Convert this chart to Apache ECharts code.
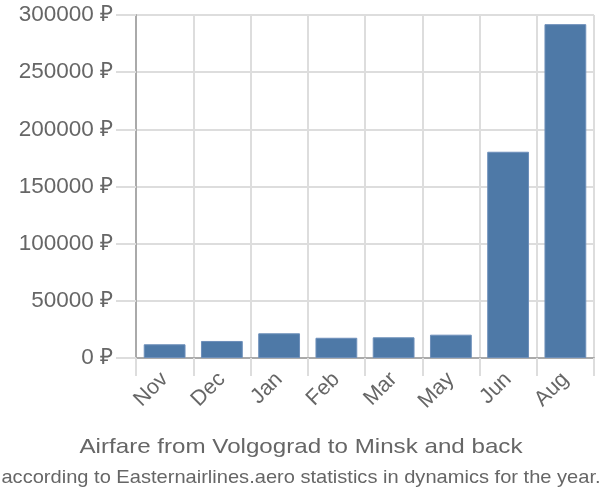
<!DOCTYPE html>
<html><head><meta charset="utf-8">
<script src="https://cdn.jsdelivr.net/npm/echarts@6/dist/echarts.min.js"></script>
<style>html,body{margin:0;padding:0;background:#fff}#c{width:600px;height:500px}</style>
</head><body><div id="c"></div>
<script>
const categories = ['Nov','Dec','Jan','Feb','Mar','May','Jun','Aug'];
const prices = [12000, 14900, 21600, 17700, 18100, 20400, 180400, 292000];
const yTicks = {min: 0, max: 300000, interval: 50000};
const currency = '₽';
const titleText = 'Airfare from Volgograd to Minsk and back';
const subText = 'according to Easternairlines.aero statistics in dynamics for the year.';

const chart = echarts.init(document.getElementById('c'), null, {renderer:'canvas'});
chart.setOption({
  animation: false,
  textStyle: {fontFamily: 'Liberation Sans'},
  graphic: [
    {type: 'text', x: 301, y: 458, scaleX: 1.15, silent: true,
     style: {text: titleText, textAlign: 'center', textVerticalAlign: 'bottom', fill: '#666', font: '21px "Liberation Sans"'}},
    {type: 'text', x: 301, y: 487, scaleX: 1.085, silent: true,
     style: {text: subText, textAlign: 'center', textVerticalAlign: 'bottom', fill: '#666', font: '18.5px "Liberation Sans"'}}
  ],
  grid: {left: 136, right: 6, top: 15, bottom: 142, containLabel: false},
  xAxis: {
    type: 'category', data: categories,
    axisLine: {lineStyle: {color: '#aaa', width: 2}},
    axisTick: {show: true, length: 18, interval: 0, lineStyle: {color: '#ddd', width: 2}},
    splitLine: {show: true, interval: 0, lineStyle: {color: '#ddd', width: 2}},
    axisLabel: {rotate: 45, fontSize: 21.5, color: '#666', margin: 18, interval: 0}
  },
  yAxis: {
    type: 'value', min: yTicks.min, max: yTicks.max, interval: yTicks.interval,
    axisLine: {show: true, lineStyle: {color: '#aaa', width: 2}},
    axisTick: {show: true, length: 20, lineStyle: {color: '#ddd', width: 2}},
    splitLine: {show: true, lineStyle: {color: '#ddd', width: 2}},
    axisLabel: {formatter: v => v + ' ' + currency, fontSize: 22.5, color: '#666', margin: 23}
  },
  series: [{
    type: 'bar', data: prices, barWidth: '73%',
    itemStyle: {color: '#4e79a7', borderColor: '#6d8fba', borderWidth: 1}
  }]
});
</script></body></html>
